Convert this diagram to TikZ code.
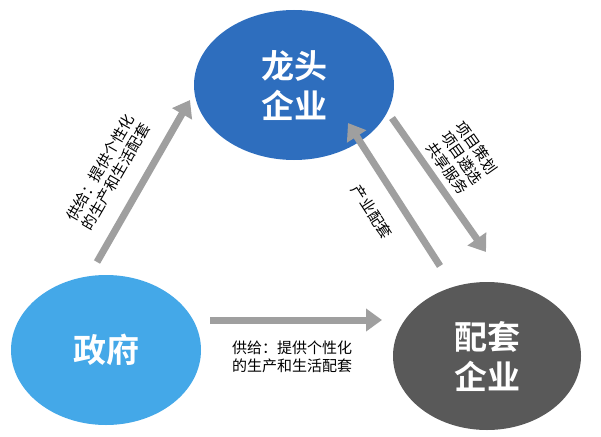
\documentclass[tikz,border=0pt]{standalone}
\usepackage{fontspec}
\setmainfont{Noto Sans CJK SC}
\newfontfamily\cjkb{Noto Sans CJK SC Bold}
\usetikzlibrary{arrows.meta,shapes.geometric}
\begin{document}
\begin{tikzpicture}[x=1pt,y=-1pt,
  circ/.style={ellipse,minimum width=#1,inner sep=0pt,text=white,font=\cjkb\fontsize{33}{40}\selectfont,align=center},
  garrow/.style={draw=gray!75,line width=7pt,-{Triangle[length=16pt,width=22pt]}},
  lab/.style={font=\fontsize{15}{18}\selectfont,align=center,text=black,inner sep=1pt}]
\useasboundingbox (0,0) rectangle (601,436);
\node[circ=200pt,minimum height=150pt,fill={rgb,255:red,46;green,110;blue,190}] (top) at (294,85) {龙头\\企业};
\node[circ=190pt,minimum height=150pt,fill={rgb,255:red,68;green,168;blue,232}] (gov) at (106,350) {政府};
\node[circ=188pt,minimum height=148pt,fill={rgb,255:red,89;green,89;blue,89}] (sup) at (487,356) {配套\\企业};
\coordinate (a1) at (97,262); \coordinate (a2) at (190,100);
\coordinate (b1) at (392,118); \coordinate (b2) at (486,252);
\coordinate (c1) at (440,266); \coordinate (c2) at (348,123);
\coordinate (d1) at (210,320); \coordinate (d2) at (382,320);
\draw[garrow] (a1) -- (a2);
\draw[garrow] (b1) -- (b2);
\draw[garrow] (c1) -- (c2);
\draw[garrow] (d1) -- (d2);
\node[lab,rotate=60] (la) at (108,172) {供给：提供个性化\\的生产和生活配套};
\node[lab,rotate=-55] (lb) at (462,158) {项目策划\\项目遴选\\共享服务};
\node[lab,rotate=-57] (lc) at (372,212) {产业配套};
\node[lab] (ld) at (292,357) {供给：提供个性化\\的生产和生活配套};
\end{tikzpicture}
\end{document}
